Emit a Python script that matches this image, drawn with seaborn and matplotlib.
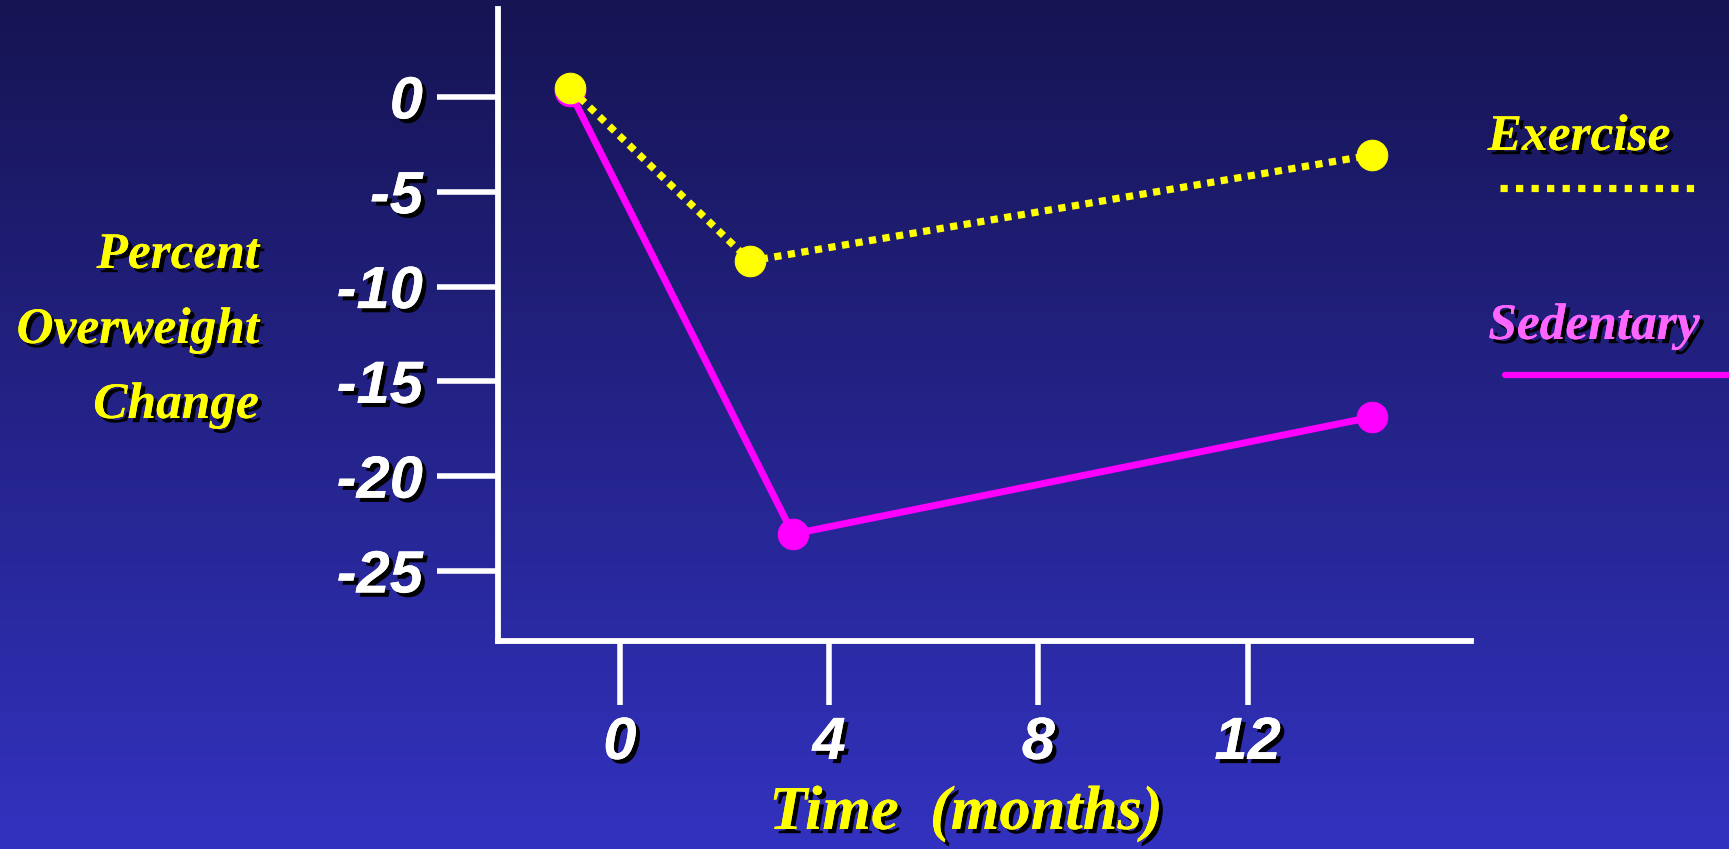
import numpy as np
import matplotlib
matplotlib.use("Agg")
import matplotlib.pyplot as plt
import matplotlib.patheffects as pe
from matplotlib.lines import Line2D
import seaborn as sns

# ---- data ----
exercise_months = [-0.96, 2.49, 14.38]
exercise_change = [0.47, -8.65, -3.06]
sedentary_months = [-0.96, 3.31, 14.38]
sedentary_change = [0.3, -23.05, -16.88]
y_ticks = [0, -5, -10, -15, -20, -25]
x_ticks = [0, 4, 8, 12]
series_names = ["Exercise", "Sedentary"]

sns.set_theme(style="white")
plt.rcParams['font.family'] = ['Liberation Sans', 'DejaVu Sans']

W, H, DPI = 1729, 849, 100
fig = plt.figure(figsize=(W / DPI, H / DPI), dpi=DPI)

# background gradient
bg = fig.add_axes([0, 0, 1, 1], zorder=-10)
top = np.array([22, 20, 82]) / 255
bot = np.array([50, 50, 192]) / 255
t = np.linspace(0, 1, 256)[:, None]
grad = top[None, None, :] * (1 - t[:, :, None]) + bot[None, None, :] * t[:, :, None]
grad = np.repeat(grad, 2, axis=1)
bg.imshow(grad, aspect='auto', extent=[0, 1, 0, 1])
bg.set_axis_off()

def px(x, y):
    return x / W, 1 - y / H

left, bottom_ = 498 / W, 1 - 641 / H
right, top_ = 1471 / W, 1 - 9 / H
ax = fig.add_axes([left, bottom_, right - left, top_ - bottom_])
ax.patch.set_alpha(0)

shadow = [pe.withSimplePatchShadow(offset=(3, -3), shadow_rgbFace='black', alpha=1.0), pe.Normal()]

YEL = '#FFFF00'
MAG = '#FF00FF'

sns.lineplot(x=sedentary_months, y=sedentary_change, ax=ax, color=MAG, lw=5.0,
             marker='o', markersize=22, markeredgecolor=MAG, markerfacecolor=MAG,
             sort=False, zorder=3, solid_capstyle='butt')
sns.lineplot(x=exercise_months, y=exercise_change, ax=ax, color=YEL, lw=5.2,
             linestyle=(0, (1, 0.9)), dash_capstyle='butt',
             marker='o', markersize=22, markeredgecolor=YEL, markerfacecolor=YEL,
             sort=False, zorder=4)

ax.set_xlim(-2.33, 16.27)
ax.set_ylim(-28.69, 4.64)
ax.set_xticks(x_ticks)
ax.set_yticks(y_ticks)
ax.set_xticklabels([str(v) for v in x_ticks])
ax.set_yticklabels([str(v) for v in y_ticks])
for s in ['top', 'right']:
    ax.spines[s].set_visible(False)
for s in ['left', 'bottom']:
    ax.spines[s].set_color('white')
    ax.spines[s].set_linewidth(4.2)
ax.tick_params(axis='y', left=True, direction='out', length=44, width=4, color='white', pad=10)
ax.tick_params(axis='x', bottom=True, direction='out', length=46, width=4, color='white', pad=8)
ax.set_xlabel('')
ax.set_ylabel('')
for lab in ax.get_xticklabels() + ax.get_yticklabels():
    lab.set_color('white')
    lab.set_fontsize(43)
    lab.set_fontweight('bold')
    lab.set_fontstyle('italic')
    lab.set_path_effects(shadow)

serif = ['Liberation Serif', 'DejaVu Serif']
# y label
for txt, yy in zip(["Percent", "Overweight", "Change"], [256, 331, 406]):
    x0, y0 = px(259, yy)
    fig.text(x0, y0, txt, ha='right', va='center', color=YEL, fontsize=37,
             fontweight='bold', fontstyle='italic', family=serif, path_effects=shadow)

# x label
x0, y0 = px(966, 814)
fig.text(x0, y0, "Time  (months)", ha='center', va='center', color=YEL, fontsize=45,
         fontweight='bold', fontstyle='italic', family=serif, path_effects=shadow)

# legend
x0, y0 = px(1579, 138)
fig.text(x0, y0, series_names[0], ha='center', va='center', color=YEL, fontsize=37,
         fontweight='bold', fontstyle='italic', family=serif, path_effects=shadow)
x0, y0 = px(1594, 327)
fig.text(x0, y0, series_names[1], ha='center', va='center', color='#FF66FF', fontsize=37,
         fontweight='bold', fontstyle='italic', family=serif, path_effects=shadow)

xa, ya = px(1500, 188)
xb, yb = px(1697, 188)
fig.add_artist(Line2D([xa, xb], [ya, yb], transform=fig.transFigure, color=YEL, lw=5.2,
                      linestyle=(0, (1, 1.15)), dash_capstyle='butt'))
xa, ya = px(1505, 375)
xb, yb = px(1729, 375)
fig.add_artist(Line2D([xa, xb], [ya, yb], transform=fig.transFigure, color=MAG, lw=4.5))

fig.savefig('out.png', dpi=DPI)
